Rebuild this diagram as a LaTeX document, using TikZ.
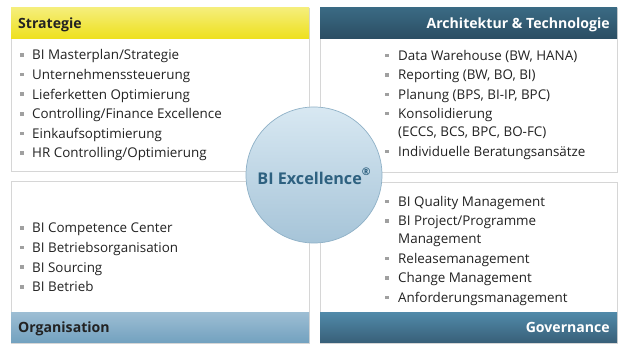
\documentclass[tikz,border=0pt]{standalone}
\usepackage{fontspec}
\setmainfont{Open Sans}
\definecolor{txt}{HTML}{222222}
\definecolor{frame}{HTML}{D6D6D6}
\definecolor{bul}{HTML}{A0A0A0}
\definecolor{ylwT}{HTML}{F5EE7A}
\definecolor{ylwB}{HTML}{EEE01C}
\definecolor{arT}{HTML}{3A6A83}
\definecolor{arB}{HTML}{2B4D63}
\definecolor{gvT}{HTML}{5089A8}
\definecolor{gvB}{HTML}{385F78}
\definecolor{ltT}{HTML}{9CBDD3}
\definecolor{ltB}{HTML}{72A1BF}
\definecolor{circT}{HTML}{D8E8F2}
\definecolor{circB}{HTML}{A6C4D8}
\definecolor{circD}{HTML}{8FB1C7}
\definecolor{circTxt}{HTML}{2E6180}
\begin{document}
\begin{tikzpicture}[x=1pt,y=-1pt,
  panel/.style={draw=frame, line width=0.6pt, fill=white},
  itemtext/.style={anchor=base west, inner sep=0pt, text=txt, font=\fontsize{13.4}{15}\selectfont},
  bulletbox/.style={fill=bul, minimum size=3.6pt, inner sep=0pt},
  headtext/.style={inner sep=0pt, font=\fontsize{14.1}{16}\selectfont\bfseries}
]
\useasboundingbox (0,0) rectangle (629,344);
\fill[white] (0,0) rectangle (629,344);
% panels
\draw[panel] (11,8) rectangle (309,171);
\draw[panel] (320,8) rectangle (617,172);
\draw[panel] (11,181) rectangle (309,343);
\draw[panel] (320,182) rectangle (617,343);
% headers
\shade[top color=ylwT, bottom color=ylwB] (11,8) rectangle (309,39);
\shade[top color=arT, bottom color=arB] (320,8) rectangle (617,39);
\shade[top color=ltT, bottom color=ltB] (11,313) rectangle (309,343);
\shade[top color=gvT, bottom color=gvB] (320,313) rectangle (617,343);
\node[headtext, anchor=base west, text=txt] (hS) at (18,28.5) {Strategie};
\node[headtext, anchor=base east, text=white] (hA) at (610,28.5) {Architektur \& Technologie};
\node[headtext, anchor=base west, text=txt] (hO) at (18,333) {Organisation};
\node[headtext, anchor=base east, text=white] (hG) at (610,333) {Governance};
% Strategie list
\foreach \t [count=\i] in {BI Masterplan/Strategie, Unternehmenssteuerung, Lieferketten Optimierung, Controlling/Finance Excellence, Einkaufsoptimierung, HR Controlling/Optimierung}{
  \node[bulletbox] (sb\i) at (22,{35.5+19.6*\i}) {};
  \node[itemtext] (st\i) at (32,{40.3+19.6*\i}) {\t};
}
% Architektur list
\node[bulletbox] (ab1) at (387,55.5) {};
\node[itemtext] (at1) at (398,60.3) {Data Warehouse (BW, HANA)};
\node[bulletbox] (ab2) at (387,75) {};
\node[itemtext] (at2) at (398,79.8) {Reporting (BW, BO, BI)};
\node[bulletbox] (ab3) at (387,94.5) {};
\node[itemtext] (at3) at (398,99.3) {Planung (BPS, BI-IP, BPC)};
\node[bulletbox] (ab4) at (387,113.5) {};
\node[itemtext] (at4) at (398,118.3) {Konsolidierung};
\node[itemtext] (at4b) at (398,136.3) {(ECCS, BCS, BPC, BO-FC)};
\node[bulletbox] (ab5) at (387,151.5) {};
\node[itemtext] (at5) at (398,156.3) {Individuelle Beratungsansätze};
% Organisation list
\foreach \t [count=\i] in {BI Competence Center, BI Betriebsorganisation, BI Sourcing, BI Betrieb}{
  \node[bulletbox] (ob\i) at (22,{208.5+19.6*\i}) {};
  \node[itemtext] (ot\i) at (32,{213.3+19.6*\i}) {\t};
}
% Governance list
\node[bulletbox] (gb1) at (387,201.5) {};
\node[itemtext] (gt1) at (398,206.3) {BI Quality Management};
\node[bulletbox] (gb2) at (387,221) {};
\node[itemtext] (gt2) at (398,225.8) {BI Project/Programme};
\node[itemtext] (gt2b) at (398,243.8) {Management};
\node[bulletbox] (gb3) at (387,258.5) {};
\node[itemtext] (gt3) at (398,263.3) {Releasemanagement};
\node[bulletbox] (gb4) at (387,278) {};
\node[itemtext] (gt4) at (398,282.8) {Change Management};
\node[bulletbox] (gb5) at (387,297.5) {};
\node[itemtext] (gt5) at (398,302.3) {Anforderungsmanagement};
% centre circle
\node[circle, minimum size=136pt, inner sep=0pt, draw=circD, line width=0.7pt,
      top color=circT, bottom color=circB] (c) at (314,175) {};
\node[inner sep=0pt, text=circTxt, font=\fontsize{16.2}{19}\selectfont\bfseries] (ct) at (314,176) {BI Excellence\raisebox{0.55em}{\fontsize{10.5}{10}\selectfont ®}};
\end{tikzpicture}
\end{document}
